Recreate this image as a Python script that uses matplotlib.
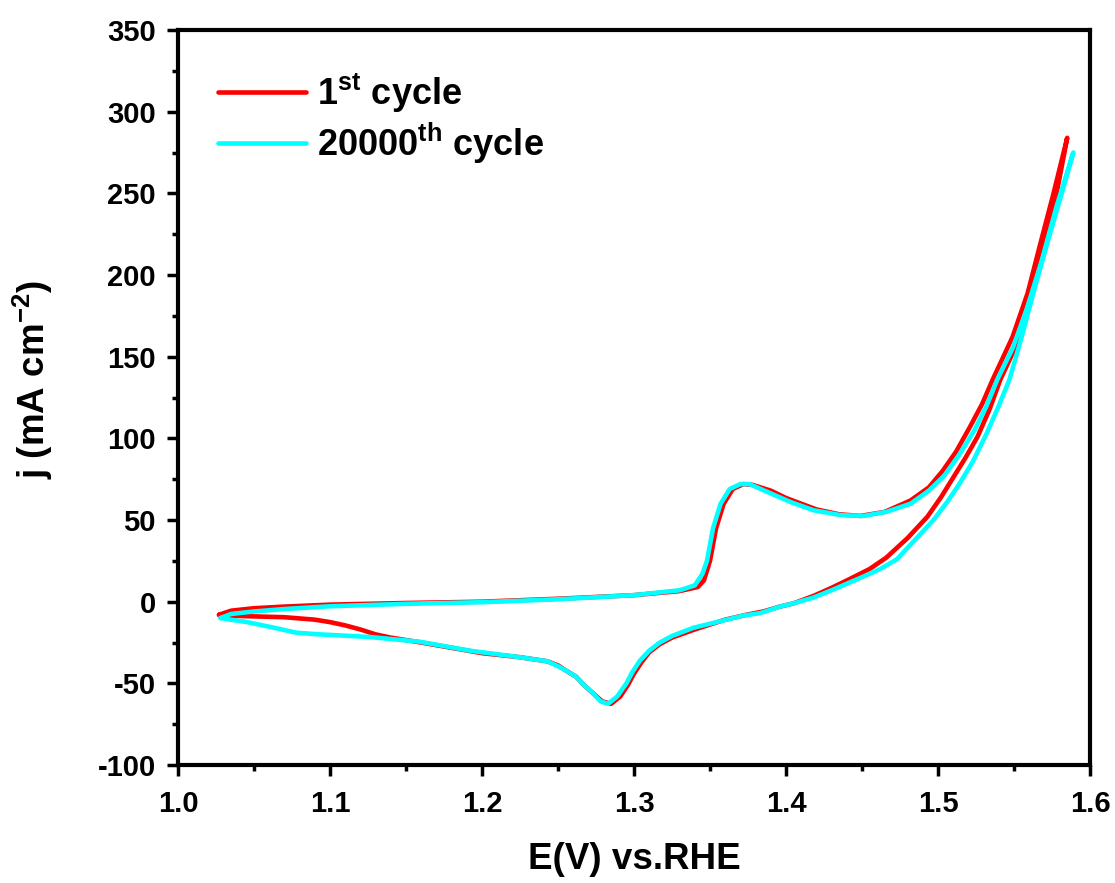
import matplotlib
matplotlib.use("Agg")
import matplotlib.pyplot as plt
import numpy as np

# 1st cycle, anodic (forward) sweep
e_1st_fwd = [1.027, 1.035, 1.05, 1.07, 1.10, 1.15, 1.20, 1.25, 1.30, 1.33, 1.342,
             1.346, 1.350, 1.354, 1.359, 1.365, 1.372, 1.378, 1.39, 1.40,
             1.41, 1.42, 1.435, 1.449, 1.465, 1.482, 1.494, 1.503, 1.512, 1.521,
             1.529, 1.536, 1.549, 1.559, 1.567, 1.576, 1.585]
j_1st_fwd = [-8.0, -5.5, -4.0, -3.0, -1.8, -0.8, 0.0, 1.8, 4.0, 6.5, 9,
             13, 25, 45, 60, 69, 72, 71.5, 68, 63.5,
             60, 56.5, 53.5, 52.5, 55, 62, 70, 80, 92, 107,
             121, 136, 162, 189, 218, 250, 284]
# 1st cycle, cathodic (return) sweep
e_1st_rev = [1.585, 1.578, 1.569, 1.561, 1.552, 1.541, 1.534, 1.526, 1.518, 1.510,
             1.502, 1.493, 1.480, 1.466, 1.455, 1.44, 1.43, 1.418, 1.405, 1.396,
             1.385, 1.374, 1.36, 1.35, 1.34, 1.325, 1.317, 1.31, 1.305, 1.30,
             1.296, 1.291, 1.285, 1.279, 1.273, 1.267, 1.262, 1.255, 1.25, 1.243,
             1.225, 1.20, 1.16, 1.14, 1.13, 1.12, 1.11, 1.10, 1.09, 1.07, 1.05,
             1.032, 1.027]
j_1st_rev = [284, 250, 217, 185, 158, 136, 118, 101, 88, 76,
             64, 52, 39, 27, 20, 13, 8.5, 3.5, -1, -3,
             -6, -8, -11, -14, -17, -22, -26, -31, -37, -44,
             -51, -58, -62.5, -61, -56, -51, -46, -42, -39, -36.5,
             -34, -31.5, -25, -22, -20, -17, -14.5, -12.5, -11, -9.5, -9,
             -8.5, -8]

# 20000th cycle, anodic sweep
e_20k_fwd = [1.028, 1.035, 1.05, 1.07, 1.10, 1.15, 1.20, 1.25, 1.30, 1.33, 1.340,
             1.345, 1.348, 1.352, 1.357, 1.363, 1.370, 1.376, 1.387, 1.403, 1.418,
             1.436, 1.451, 1.466, 1.482, 1.494, 1.504, 1.514, 1.524, 1.532, 1.539,
             1.549, 1.558, 1.568, 1.578, 1.589]
j_20k_fwd = [-10, -7.5, -6, -4.5, -2.8, -1.3, -0.3, 1.5, 4.0, 7.0, 10,
             17, 25, 45, 60, 69, 72, 72, 67.5, 61, 56,
             53, 52.5, 55, 60, 68, 77, 90, 105, 120, 136,
             155, 178, 208, 242, 275]
# 20000th cycle, cathodic sweep
e_20k_rev = [1.589, 1.582, 1.572, 1.563, 1.555, 1.547, 1.540, 1.532, 1.523, 1.514,
             1.506, 1.497, 1.485, 1.473, 1.462, 1.45, 1.44, 1.43, 1.418, 1.405,
             1.396, 1.383, 1.372, 1.361, 1.350, 1.339, 1.325, 1.317, 1.310, 1.304,
             1.299, 1.295, 1.289, 1.283, 1.278, 1.273, 1.267, 1.262, 1.255, 1.25,
             1.243, 1.225, 1.192, 1.159, 1.126, 1.093, 1.078, 1.061, 1.045, 1.033,
             1.028]
j_20k_rev = [275, 252, 220, 190, 162, 136, 120, 103, 86, 72,
             61, 50, 38, 26, 20, 15, 11, 7, 2.5, -1,
             -3, -7, -8.5, -11, -13.5, -16, -21, -25, -30, -36,
             -43, -50, -58, -62.5, -61, -56, -51, -46, -42, -39.5,
             -36.5, -34, -30, -24.5, -21.6, -20, -19, -15.5, -12.4, -10.8,
             -10]

x_ticks = [1.0, 1.1, 1.2, 1.3, 1.4, 1.5, 1.6]
y_ticks = [-100, -50, 0, 50, 100, 150, 200, 250, 300, 350]

plt.rcParams['font.family'] = ['Liberation Sans', 'DejaVu Sans']
plt.rcParams['font.weight'] = 'bold'
plt.rcParams['mathtext.fontset'] = 'custom'
plt.rcParams['mathtext.rm'] = 'Liberation Sans:bold'
plt.rcParams['mathtext.bf'] = 'Liberation Sans:bold'
plt.rcParams['mathtext.default'] = 'bf'

fig = plt.figure(figsize=(11.15, 8.83), dpi=100)
ax = fig.add_axes([0.1596, 0.1336, 0.8180, 0.8324])

for e_f, j_f, e_r, j_r, col, lab in [
        (e_1st_fwd, j_1st_fwd, e_1st_rev, j_1st_rev, '#FF0000', r'1$^{st}$ cycle'),
        (e_20k_fwd, j_20k_fwd, e_20k_rev, j_20k_rev, '#00FFFF', r'20000$^{th}$ cycle')]:
    e = np.concatenate([e_f, e_r])
    j = np.concatenate([j_f, j_r])
    ax.plot(e, j, color=col, lw=3.3, label=lab,
            solid_capstyle='round', solid_joinstyle='round')

ax.set_xlim(1.0, 1.6)
ax.set_ylim(-100, 350)
ax.set_xticks(x_ticks)
ax.set_yticks(y_ticks)
ax.set_xticks(np.arange(1.05, 1.6, 0.1), minor=True)
ax.set_yticks(np.arange(-75, 350, 50), minor=True)
ax.set_xticklabels([f"{v:.1f}" for v in x_ticks])
ax.set_yticklabels([str(v) for v in y_ticks])

ax.tick_params(which='major', direction='out', length=8, width=2.5,
               labelsize=21, pad=8, top=False, right=False)
ax.tick_params(axis='x', which='major', pad=10)
ax.tick_params(which='minor', direction='out', length=4.5, width=2.5,
               top=False, right=False)
for lbl in ax.get_xticklabels() + ax.get_yticklabels():
    lbl.set_fontweight('bold')
for sp in ax.spines.values():
    sp.set_linewidth(3)

ax.set_xlabel("E(V) vs.RHE", fontsize=26.5, fontweight='bold')
ax.set_ylabel(r"j (mA cm$^{-2}$)", fontsize=26.5, fontweight='bold')
ax.xaxis.set_label_coords(0.5, -0.105)
ax.yaxis.set_label_coords(-0.135, 0.524)

leg = ax.legend(loc='upper left', frameon=False, fontsize=26,
                handlelength=2.44, handletextpad=0.3, labelspacing=0.16,
                bbox_to_anchor=(0.008, 0.988))
for t in leg.get_texts():
    t.set_fontweight('bold')

fig.savefig("out.png", dpi=100)
